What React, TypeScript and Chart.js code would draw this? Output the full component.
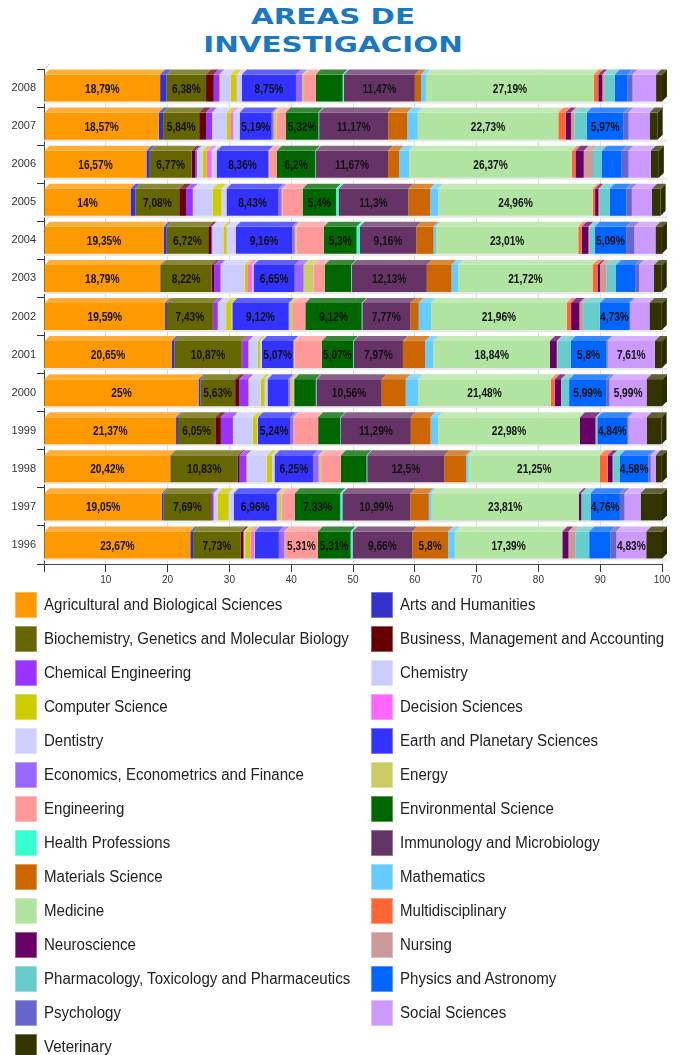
import React, { useEffect, useRef } from 'react';
import { Chart, registerables } from 'chart.js';

Chart.register(...registerables);

const years = ['2008', '2007', '2006', '2005', '2004', '2003', '2002', '2001', '2000', '1999', '1998', '1997', '1996'];

const categories = [
  'Agricultural and Biological Sciences', 'Arts and Humanities',
  'Biochemistry, Genetics and Molecular Biology', 'Business, Management and Accounting',
  'Chemical Engineering', 'Chemistry',
  'Computer Science', 'Decision Sciences',
  'Dentistry', 'Earth and Planetary Sciences',
  'Economics, Econometrics and Finance', 'Energy',
  'Engineering', 'Environmental Science',
  'Health Professions', 'Immunology and Microbiology',
  'Materials Science', 'Mathematics',
  'Medicine', 'Multidisciplinary',
  'Neuroscience', 'Nursing',
  'Pharmacology, Toxicology and Pharmaceutics', 'Physics and Astronomy',
  'Psychology', 'Social Sciences',
  'Veterinary',
];

const colors = [
  '#FF9900', '#3333CC', '#666600', '#660000', '#9933FF', '#CCCCFF', '#CCCC00', '#FF66FF', '#D0D0FF',
  '#3333FF', '#9966FF', '#CCCC66', '#FF9999', '#006600', '#33FFCC', '#663366', '#CC6600', '#66CCFF',
  '#B0E4A0', '#FF6633', '#660066', '#CC9999', '#66CCCC', '#0066FF', '#6666CC', '#CC99FF', '#333300',
];

// values per year, 2008 -> 1996 (percent)
const agricultural = [18.79, 18.57, 16.57, 14, 19.35, 18.79, 19.59, 20.65, 25, 21.37, 20.42, 19.05, 23.67];
const arts = [1.05, 0.7, 0.55, 0.8, 0.5, 0.1, 0.3, 0.45, 0.3, 0.3, 0.1, 0.3, 0.45];
const biochemistry = [6.38, 5.84, 6.77, 7.08, 6.72, 8.22, 7.43, 10.87, 5.63, 6.05, 10.83, 7.69, 7.73];
const business = [1.25, 1.1, 0.55, 1.1, 0.45, 0.45, 0.1, 0.1, 0.7, 0.9, 0.3, 0.1, 0.4];
const chemicalEng = [0.92, 1.0, 0.3, 1.1, 0.2, 1.0, 0.7, 1.0, 1.45, 1.95, 1.1, 0.3, 0.1];
const chemistry = [1.8, 2.4, 0.9, 3.2, 1.8, 3.9, 1.35, 1.5, 2.0, 3.2, 3.3, 0.65, 0.2];
const computer = [0.98, 0.65, 0.7, 1.45, 0.55, 0.55, 0.9, 0.4, 0.65, 0.75, 0.85, 1.8, 0.9];
const decision = [0.1, 0.4, 0.8, 0, 0, 0.7, 0, 0, 0, 0, 0, 0, 0.55];
const dentistry = [0.75, 1.0, 0.8, 0.8, 1.45, 0.2, 0.1, 0.3, 0.45, 0.1, 0.4, 0.8, 0.1];
const earth = [8.75, 5.19, 8.36, 8.43, 9.16, 6.65, 9.12, 5.07, 3.35, 5.24, 6.25, 6.96, 3.9];
const economics = [1.0, 0.3, 0.1, 0.5, 0.4, 1.45, 0.1, 0.1, 0.3, 0.5, 0.9, 0.1, 0.9];
const energy = [0.3, 0.5, 0.05, 0.1, 0.3, 1.6, 0.6, 0.1, 0.55, 0.1, 0.4, 0.7, 0.1];
const engineering = [1.9, 1.45, 1.25, 3.3, 4.4, 1.8, 2.0, 4.4, 0.1, 3.9, 3.2, 2.15, 5.31];
const environmental = [4.36, 5.32, 6.2, 5.4, 5.3, 4.3, 9.12, 5.07, 3.5, 3.6, 4.15, 7.33, 5.31];
const health = [0.2, 0.1, 0.1, 0.4, 0.5, 0.1, 0.1, 0.1, 0.1, 0.1, 0.1, 0.35, 0.3];
const immunology = [11.47, 11.17, 11.67, 11.3, 9.16, 12.13, 7.77, 7.97, 10.56, 11.29, 12.5, 10.99, 9.66];
const materials = [1.0, 3.1, 1.8, 3.5, 2.8, 4.0, 1.35, 3.6, 3.9, 3.2, 3.5, 3.0, 5.8];
const mathematics = [0.8, 1.7, 1.6, 1.35, 0.4, 1.1, 2.0, 1.35, 2.0, 1.2, 0.4, 0.45, 1.1];
const medicine = [27.19, 22.73, 26.37, 24.96, 23.01, 21.72, 21.96, 18.84, 21.48, 22.98, 21.25, 23.81, 17.39];
const multidisciplinary = [0.7, 1.2, 0.55, 0.4, 0.55, 0.8, 0.7, 0, 0.65, 0, 1.25, 0, 0];
const neuroscience = [0.65, 0.85, 1.35, 0.55, 1.1, 0.4, 1.35, 1.1, 1.0, 2.5, 0.8, 0.4, 1.0];
const nursing = [0.4, 0.55, 1.5, 0.2, 0.2, 1.1, 0.6, 0.1, 0.1, 0.1, 0.1, 0, 1.1];
const pharmacology = [1.6, 2.0, 1.45, 1.6, 0.8, 1.5, 2.7, 2.15, 1.2, 0.2, 1.1, 1.5, 2.25];
const physics = [2.1, 5.97, 3.2, 2.7, 5.09, 3.1, 4.73, 5.8, 5.99, 4.84, 4.58, 4.76, 3.4];
const psychology = [0.8, 0.8, 1.1, 0.9, 1.35, 0.65, 0.2, 0.2, 0.55, 0.2, 0.4, 0.75, 1.0];
const social = [3.8, 3.4, 3.6, 3.25, 3.4, 2.4, 3.1, 7.61, 5.99, 2.95, 0.8, 2.6, 4.83];
const veterinary = [0.95, 1.3, 1.3, 1.4, 1.05, 1.25, 2.0, 1.15, 2.5, 2.4, 1.0, 3.46, 2.55];

const seriesValues = [
  agricultural, arts, biochemistry, business, chemicalEng, chemistry, computer, decision, dentistry,
  earth, economics, energy, engineering, environmental, health, immunology, materials, mathematics,
  medicine, multidisciplinary, neuroscience, nursing, pharmacology, physics, psychology, social, veterinary,
];

const xTicks = [0, 10, 20, 30, 40, 50, 60, 70, 80, 90, 100];

const SANS = '"Liberation Sans", Arial, sans-serif';
const LABEL_MIN = 4.5;
const DEPTH = 5;

function mix(hex: string, target: string, t: number) {
  const p = (h: string) => [1, 3, 5].map((i) => parseInt(h.slice(i, i + 2), 16));
  const a = p(hex);
  const b = p(target);
  const c = a.map((v, i) => Math.round(v + (b[i] - v) * t));
  return `rgb(${c[0]},${c[1]},${c[2]})`;
}

const floorPlugin = {
  id: 'floor3d',
  beforeDatasetsDraw(chart: any) {
    const ctx = chart.ctx;
    const area = chart.chartArea;
    const meta = chart.getDatasetMeta(0);
    ctx.save();
    ctx.fillStyle = '#e8e8e8';
    meta.data.forEach((el: any) => {
      const { y, height } = el.getProps(['y', 'height'], true);
      const bottom = y + height / 2;
      ctx.fillRect(area.left, bottom, area.right - area.left + DEPTH, 2);
    });
    ctx.strokeStyle = '#bbbbbb';
    ctx.lineWidth = 1;
    ctx.beginPath();
    ctx.moveTo(area.left + 0.5, area.top);
    ctx.lineTo(area.left + DEPTH + 0.5, area.top - DEPTH);
    ctx.stroke();
    ctx.restore();
  },
};

const bar3dPlugin = {
  id: 'bar3d',
  afterDatasetsDraw(chart: any) {
    const ctx = chart.ctx;
    const n = chart.data.labels.length;
    ctx.save();
    for (let i = 0; i < n; i++) {
      let last: any = null;
      chart.data.datasets.forEach((ds: any, di: number) => {
        const v = ds.data[i];
        if (!v) return;
        const el = chart.getDatasetMeta(di).data[i];
        const { x, y, base, height } = el.getProps(['x', 'y', 'base', 'height'], true);
        const top = y - height / 2;
        const l = Math.min(base, x);
        const r = Math.max(base, x);
        ctx.fillStyle = mix(ds.backgroundColor, '#ffffff', 0.22);
        ctx.beginPath();
        ctx.moveTo(l, top);
        ctx.lineTo(l + DEPTH, top - DEPTH);
        ctx.lineTo(r + DEPTH, top - DEPTH);
        ctx.lineTo(r, top);
        ctx.closePath();
        ctx.fill();
        last = { r, top, height, color: ds.backgroundColor };
      });
      if (last) {
        ctx.fillStyle = mix(last.color, '#000000', 0.15);
        ctx.beginPath();
        ctx.moveTo(last.r, last.top);
        ctx.lineTo(last.r + DEPTH, last.top - DEPTH);
        ctx.lineTo(last.r + DEPTH, last.top + last.height - DEPTH);
        ctx.lineTo(last.r, last.top + last.height);
        ctx.closePath();
        ctx.fill();
        ctx.fillStyle = mix(last.color, '#ffffff', 0.22);
        ctx.beginPath();
        ctx.moveTo(last.r, last.top);
        ctx.lineTo(last.r + DEPTH, last.top - DEPTH);
        ctx.lineTo(last.r + DEPTH, last.top - DEPTH + 1);
        ctx.lineTo(last.r, last.top + 1);
        ctx.closePath();
        ctx.fill();
      }
    }
    ctx.font = `bold 13px ${SANS}`;
    ctx.fillStyle = '#111111';
    ctx.textAlign = 'center';
    ctx.textBaseline = 'middle';
    chart.data.datasets.forEach((ds: any, di: number) => {
      const meta = chart.getDatasetMeta(di);
      ds.data.forEach((v: number, i: number) => {
        if (v < LABEL_MIN) return;
        const el = meta.data[i];
        const { x, y, base } = el.getProps(['x', 'y', 'base'], true);
        ctx.save();
        ctx.translate((x + base) / 2, y + 1);
        ctx.scale(0.78, 1);
        ctx.fillText(String(v).replace('.', ',') + '%', 0, 0);
        ctx.restore();
      });
    });
    ctx.restore();
  },
};

export default function App() {
  const canvasRef = useRef<HTMLCanvasElement | null>(null);

  useEffect(() => {
    const canvas = canvasRef.current;
    if (!canvas) return;
    const chart = new Chart(canvas, {
      type: 'bar',
      data: {
        labels: years,
        datasets: seriesValues.map((vals, i) => ({
          label: categories[i],
          data: vals,
          backgroundColor: colors[i],
          borderWidth: 0,
          barPercentage: 0.71,
          categoryPercentage: 1,
        })),
      },
      options: {
        indexAxis: 'y',
        responsive: false,
        animation: false,
        maintainAspectRatio: false,
        layout: { padding: { left: 0, right: 18, top: 9, bottom: 0 } },
        plugins: {
          legend: { display: false },
          title: { display: false },
          tooltip: { enabled: false },
        },
        scales: {
          x: {
            stacked: true,
            min: 0,
            max: 100,
            afterBuildTicks: (scale: any) => {
              scale.ticks = xTicks.map((v) => ({ value: v }));
            },
            afterFit: (scale: any) => {
              scale.height = 36;
            },
            grid: {
              color: '#dddddd',
              tickColor: '#333333',
              tickLength: 8,
              drawTicks: true,
            },
            border: { display: true, color: '#444444', width: 1 },
            ticks: {
              color: '#333333',
              padding: 2,
              maxRotation: 0,
              font: { family: SANS, size: 10 },
              callback: (v: any) => (v === 0 ? '' : String(v)),
            },
          },
          y: {
            stacked: true,
            afterFit: (scale: any) => {
              scale.width = 44;
            },
            grid: {
              drawOnChartArea: false,
              drawTicks: true,
              tickLength: 7,
              tickColor: '#333333',
            },
            border: { display: true, color: '#444444', width: 1 },
            ticks: {
              color: '#333333',
              padding: 1,
              font: { family: SANS, size: 11 },
            },
          },
        },
      },
      plugins: [floorPlugin, bar3dPlugin],
    } as any);
    return () => chart.destroy();
  }, []);

  const legendRows: number[][] = [];
  for (let i = 0; i < categories.length; i += 2) {
    legendRows.push(categories.length > i + 1 ? [i, i + 1] : [i]);
  }

  return (
    <div style={{ position: 'absolute', left: 0, top: 0, width: 680, height: 1055, background: '#ffffff', overflow: 'hidden' }}>
      <div
        style={{
          position: 'absolute',
          left: 0,
          top: 3,
          width: 666,
          textAlign: 'center',
          fontFamily: '"DejaVu Sans", Verdana, sans-serif',
          fontWeight: 'bold',
          fontSize: 21,
          lineHeight: '28px',
          color: '#1a78c2',
          transform: 'scaleX(1.4)',
          transformOrigin: '333px 0',
        }}
      >
        <div>AREAS DE</div>
        <div>INVESTIGACION</div>
      </div>
      <canvas ref={canvasRef} width={680} height={540} style={{ position: 'absolute', left: 0, top: 60, width: 680, height: 540 }} />
      <div style={{ position: 'absolute', left: 0, top: 592, width: 680 }}>
        {legendRows.map((row, ri) => (
          <div key={ri} style={{ position: 'relative', height: 34 }}>
            {row.map((ci, k) => (
              <div key={ci} style={{ position: 'absolute', left: k === 0 ? 15 : 371, top: 0, display: 'flex', alignItems: 'center', height: 26 }}>
                <div style={{ width: 22, height: 26, background: colors[ci], boxShadow: 'inset 0 0 0 1px rgba(255,255,255,0.35)' }} />
                <span
                  style={{
                    marginLeft: 7,
                    fontFamily: SANS,
                    fontSize: 16,
                    color: '#222222',
                    whiteSpace: 'nowrap',
                    display: 'inline-block',
                    transform: 'scaleX(0.94)',
                    transformOrigin: '0 50%',
                  }}
                >
                  {categories[ci]}
                </span>
              </div>
            ))}
          </div>
        ))}
      </div>
    </div>
  );
}
